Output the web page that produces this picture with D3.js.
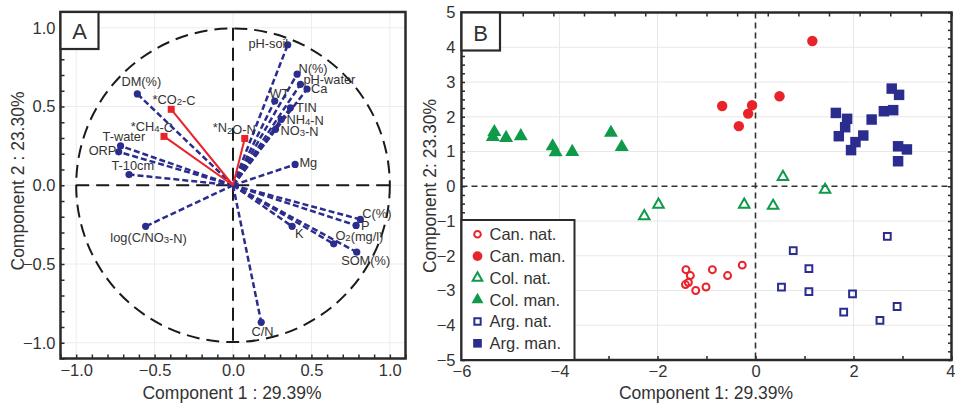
<!DOCTYPE html>
<html><head><meta charset="utf-8">
<script src="https://cdn.jsdelivr.net/npm/d3@7"></script>
<style>
html,body{margin:0;padding:0;background:#fff;}
svg{display:block;font-family:"Liberation Sans",Arial,sans-serif;}
</style></head><body>
<svg id="c" width="955" height="406"></svg>
<script>
// ---------- Panel A data (loadings) ----------
const varNames = ["DM(%)","T-water","ORP","T-10cm","log(C/NO3-N)","pH-soil","N(%)","pH-water","Ca","WT","TIN","NH4-N","NO3-N","Mg","C(%)","P","K","O2(mg/l)","SOM(%)","C/N"];
const varX = [-0.61,-0.717,-0.729,-0.663,-0.557,0.349,0.409,0.43,0.472,0.266,0.366,0.307,0.271,0.396,0.812,0.785,0.377,0.642,0.789,0.18];
const varY = [0.58,0.25,0.212,0.068,-0.261,0.892,0.705,0.641,0.611,0.535,0.492,0.418,0.355,0.132,-0.217,-0.255,-0.261,-0.372,-0.425,-0.87];
const gasNames = ["*CO2-C","*CH4-C","*N2O-N"];
const gasX = [-0.394,-0.44,0.075];
const gasY = [0.482,0.31,0.297];
const aTicks = [-1.0,-0.5,0.0,0.5,1.0];

// ---------- Panel B data (scores) ----------
const groups = ["Can. nat.","Can. man.","Col. nat.","Col. man.","Arg. nat.","Arg. man."];
const canNatX = [-1.42,-1.33,-1.37,-1.43,-1.22,-1.01,-0.88,-0.57,-0.27];
const canNatY = [-2.40,-2.57,-2.77,-2.83,-3.00,-2.90,-2.40,-2.57,-2.27];
const canManX = [1.16,0.49,-0.68,-0.07,-0.15,-0.34];
const canManY = [4.18,2.59,2.31,2.33,2.09,1.73];
const colNatX = [0.56,1.42,-0.23,0.36,-2.27,-1.98];
const colNatY = [0.27,-0.10,-0.53,-0.56,-0.86,-0.53];
const colManX = [-5.33,-5.36,-5.09,-4.79,-4.14,-4.08,-3.74,-2.95,-2.73];
const colManY = [1.56,1.42,1.39,1.44,1.15,0.98,0.99,1.54,1.13];
const argNatX = [2.69,0.77,1.09,0.53,1.09,1.98,2.89,1.80,2.54];
const argNatY = [-1.44,-1.85,-2.37,-2.90,-3.03,-3.10,-3.46,-3.62,-3.86];
const argManX = [1.64,1.87,1.83,1.70,2.04,1.95,2.20,2.37,2.62,2.81,2.78,2.93,2.91,3.09,2.91];
const argManY = [2.11,1.94,1.70,1.44,1.27,1.04,1.46,1.92,2.16,2.19,2.81,2.63,1.15,1.06,0.72];
const bXTicks = [-6,-4,-2,0,2,4];
const bYTicks = [5,4,3,2,1,0,-1,-2,-3,-4,-5];

// ---------- styles ----------
const BLUE = "#2b2d8e", RED = "#e8232a", GREEN = "#0f9a4a", TXT = "#333", FRAME = "#2a2a2a";
const svg = d3.select("#c");

function richText(sel, label, size){
  // subscript digits following an uppercase letter
  const parts = label.split(/([A-Z])(\d)/);
  parts.forEach((p,i)=>{
    if (i % 3 === 2){
      sel.append("tspan").attr("font-size", size*0.75).attr("dy", 1.2).text(p);
      sel.append("tspan").attr("dy", -1.2).text("");
    } else if (p) {
      sel.append("tspan").text(p);
    }
  });
}

// =================== PANEL A ===================
const xA = d3.scaleLinear().domain([-1.1,1.1]).range([60.5,405.5]);
const yA = d3.scaleLinear().domain([-1.1,1.1]).range([358.5,12]);
const gA = svg.append("g");

gA.selectAll(".gx").data(aTicks).enter().append("line")
  .attr("x1", d=>xA(d)).attr("x2", d=>xA(d)).attr("y1", yA(1.1)).attr("y2", yA(-1.1))
  .attr("stroke", "#ececec").attr("stroke-width", 1);
gA.selectAll(".gy").data(aTicks).enter().append("line")
  .attr("y1", d=>yA(d)).attr("y2", d=>yA(d)).attr("x1", xA(-1.1)).attr("x2", xA(1.1))
  .attr("stroke", "#ececec").attr("stroke-width", 1);

const dashBlack = "13,7";
gA.append("circle").attr("cx", xA(0)).attr("cy", yA(0)).attr("r", xA(1)-xA(0))
  .attr("fill","none").attr("stroke","#1a1a1a").attr("stroke-width",2).attr("stroke-dasharray",dashBlack);
gA.append("line").attr("x1", xA(-1)).attr("x2", xA(1)).attr("y1", yA(0)).attr("y2", yA(0))
  .attr("stroke","#1a1a1a").attr("stroke-width",2).attr("stroke-dasharray",dashBlack);
gA.append("line").attr("x1", xA(0)).attr("x2", xA(0)).attr("y1", yA(1)).attr("y2", yA(-1))
  .attr("stroke","#1a1a1a").attr("stroke-width",2).attr("stroke-dasharray",dashBlack);

const vars = varNames.map((n,i)=>({n, x:varX[i], y:varY[i]}));
gA.selectAll(".bl").data(vars).enter().append("line")
  .attr("x1", xA(0)).attr("y1", yA(0)).attr("x2", d=>xA(d.x)).attr("y2", d=>yA(d.y))
  .attr("stroke", BLUE).attr("stroke-width", 2.5).attr("stroke-dasharray","6,3");
gA.selectAll(".bp").data(vars).enter().append("circle")
  .attr("cx", d=>xA(d.x)).attr("cy", d=>yA(d.y)).attr("r", 3.6).attr("fill", BLUE);

const gases = gasNames.map((n,i)=>({n, x:gasX[i], y:gasY[i]}));
gA.selectAll(".rl").data(gases).enter().append("line")
  .attr("x1", xA(0)).attr("y1", yA(0)).attr("x2", d=>xA(d.x)).attr("y2", d=>yA(d.y))
  .attr("stroke", RED).attr("stroke-width", 2);
gA.selectAll(".rp").data(gases).enter().append("rect")
  .attr("x", d=>xA(d.x)-3.5).attr("y", d=>yA(d.y)-3.5).attr("width",7).attr("height",7).attr("fill", RED);

const labelPos = {
  "DM(%)":[4,-12,"middle"], "T-water":[-18,-9.7,"start"], "ORP":[-2.3,-1.7,"end"],
  "T-10cm":[-17.6,-8.6,"start"], "log(C/NO3-N)":[2.9,11.3,"middle"], "pH-soil":[0.5,-1,"end"],
  "N(%)":[1.3,-6,"start"], "pH-water":[3,-5,"start"], "Ca":[4,0,"start"], "WT":[-5.3,-7,"start"],
  "TIN":[5.7,0,"start"], "NH4-N":[5.3,0,"start"], "NO3-N":[5,1,"start"], "Mg":[4.3,-1.6,"start"],
  "C(%)":[2,-6.3,"start"], "P":[5,0,"start"], "K":[3,6.7,"start"], "O2(mg/l)":[1.7,-8.3,"start"],
  "SOM(%)":[-15.6,8.3,"start"], "C/N":[1.3,9.3,"middle"],
  "*CO2-C":[-18.7,-10.3,"start"], "*CH4-C":[-33.3,-10,"start"], "*N2O-N":[-32,-10.6,"start"]
};
const LS = 12.8;
vars.concat(gases).forEach(d=>{
  const p = labelPos[d.n];
  const t = gA.append("text").attr("x", xA(d.x)+p[0]).attr("y", yA(d.y)+p[1]+LS*0.35)
    .attr("text-anchor", p[2]).attr("font-size", LS).attr("fill", TXT);
  richText(t, d.n, LS);
});

gA.append("rect").attr("x", xA(-1.1)).attr("y", yA(1.1)).attr("width", xA(1.1)-xA(-1.1)).attr("height", yA(-1.1)-yA(1.1))
  .attr("fill","none").attr("stroke",FRAME).attr("stroke-width",2.5);

const minorA = d3.range(-11,12).map(d=>d/10);
gA.append("g").attr("transform",`translate(${xA(-1.1)},0)`)
  .call(d3.axisLeft(yA).tickValues(minorA).tickSize(-4).tickFormat(""))
  .call(g=>{g.select(".domain").remove(); g.selectAll("line").attr("stroke",FRAME).attr("stroke-width",1.5);});
gA.append("g").attr("transform",`translate(0,${yA(-1.1)})`)
  .call(d3.axisBottom(xA).tickValues(minorA).tickSize(-4).tickFormat(""))
  .call(g=>{g.select(".domain").remove(); g.selectAll("line").attr("stroke",FRAME).attr("stroke-width",1.5);});

gA.append("g").attr("transform",`translate(${xA(-1.1)},0)`)
  .call(d3.axisLeft(yA).tickValues(aTicks).tickSize(0).tickPadding(5).tickFormat(d3.format(".1f")))
  .call(g=>{g.select(".domain").remove(); g.selectAll("text").attr("font-size",16.5).attr("fill",TXT).attr("font-family","Liberation Sans, Arial, sans-serif");});
gA.append("g").attr("transform",`translate(0,${yA(-1.1)})`)
  .call(d3.axisBottom(xA).tickValues(aTicks).tickSize(0).tickPadding(6).tickFormat(d3.format(".1f")))
  .call(g=>{g.select(".domain").remove(); g.selectAll("text").attr("font-size",16.5).attr("fill",TXT).attr("font-family","Liberation Sans, Arial, sans-serif");});

gA.append("text").attr("x", 232).attr("y", 399).attr("text-anchor","middle").attr("font-size",17.5).attr("fill",TXT)
  .text("Component 1 : 29.39%");
gA.append("text").attr("transform","translate(24,181) rotate(-90)").attr("text-anchor","middle").attr("font-size",17.5).attr("fill",TXT)
  .text("Component 2 : 23.30%");

gA.append("rect").attr("x", xA(-1.1)).attr("y", yA(1.1)).attr("width",38).attr("height",37)
  .attr("fill","#fff").attr("stroke",FRAME).attr("stroke-width",2.2);
gA.append("text").attr("x", xA(-1.1)+19).attr("y", yA(1.1)+27).attr("text-anchor","middle").attr("font-size",22).attr("fill",TXT).text("A");

// =================== PANEL B ===================
const xB = d3.scaleLinear().domain([-6,4]).range([461.5,951.5]);
const yB = d3.scaleLinear().domain([-5,5]).range([360,12.5]);
const gB = svg.append("g");

gB.selectAll(".gx").data([-4,-2,2]).enter().append("line")
  .attr("x1", d=>xB(d)).attr("x2", d=>xB(d)).attr("y1", yB(5)).attr("y2", yB(-5))
  .attr("stroke","#e8e8e8").attr("stroke-width",1);
gB.selectAll(".gy").data(bYTicks.filter(d=>d!==0&&Math.abs(d)<5)).enter().append("line")
  .attr("y1", d=>yB(d)).attr("y2", d=>yB(d)).attr("x1", xB(-6)).attr("x2", xB(4))
  .attr("stroke","#e8e8e8").attr("stroke-width",1);

gB.append("line").attr("x1", xB(-6)).attr("x2", xB(4)).attr("y1", yB(0)).attr("y2", yB(0))
  .attr("stroke","#333").attr("stroke-width",1.6).attr("stroke-dasharray","6,4");
gB.append("line").attr("x1", xB(0)).attr("x2", xB(0)).attr("y1", yB(5)).attr("y2", yB(-5))
  .attr("stroke","#333").attr("stroke-width",1.6).attr("stroke-dasharray","6,4");

const sets = [
  {name:groups[0], xs:canNatX, ys:canNatY, shape:d3.symbolCircle, size:38, fill:"none", stroke:RED, sw:2},
  {name:groups[1], xs:canManX, ys:canManY, shape:d3.symbolCircle, size:85, fill:RED, stroke:"none", sw:0},
  {name:groups[2], xs:colNatX, ys:colNatY, shape:d3.symbolTriangle, size:48, fill:"none", stroke:GREEN, sw:2},
  {name:groups[3], xs:colManX, ys:colManY, shape:d3.symbolTriangle, size:85, fill:GREEN, stroke:"none", sw:0},
  {name:groups[4], xs:argNatX, ys:argNatY, shape:d3.symbolSquare, size:46, fill:"none", stroke:BLUE, sw:2},
  {name:groups[5], xs:argManX, ys:argManY, shape:d3.symbolSquare, size:110, fill:BLUE, stroke:"none", sw:0}
];
sets.forEach(s=>{
  const pts = s.xs.map((x,i)=>({x, y:s.ys[i]}));
  gB.selectAll(null).data(pts).enter().append("path")
    .attr("transform", d=>`translate(${xB(d.x)},${yB(d.y)})`)
    .attr("d", d3.symbol().type(s.shape).size(s.size)())
    .attr("fill", s.fill).attr("stroke", s.stroke).attr("stroke-width", s.sw);
});

gB.append("rect").attr("x", xB(-6)).attr("y", yB(5)).attr("width", xB(4)-xB(-6)).attr("height", yB(-5)-yB(5))
  .attr("fill","none").attr("stroke",FRAME).attr("stroke-width",2.5);

const tickStyle = g=>{g.select(".domain").remove(); g.selectAll("line").attr("stroke",FRAME).attr("stroke-width",1.5);};
const minorB = d3.range(-20,21).map(d=>d/4);
gB.append("g").attr("transform",`translate(${xB(-6)},0)`).call(d3.axisLeft(yB).tickValues(minorB).tickSize(-3.5).tickFormat("")).call(tickStyle);
gB.append("g").attr("transform",`translate(${xB(4)},0)`).call(d3.axisRight(yB).tickValues(minorB).tickSize(-3.5).tickFormat("")).call(tickStyle);
gB.append("g").attr("transform",`translate(0,${yB(-5)})`).call(d3.axisBottom(xB).tickValues(d3.range(-6,5)).tickSize(-4).tickFormat("")).call(tickStyle);
const topB = d3.scaleLinear().domain([0,16]).range(xB.range());
gB.append("g").attr("transform",`translate(0,${yB(5)})`).call(d3.axisTop(topB).tickValues(d3.range(0,17)).tickSize(-4).tickFormat("")).call(tickStyle);

const labStyle = g=>{g.select(".domain").remove(); g.selectAll("text").attr("font-size",16.5).attr("fill",TXT).attr("font-family","Liberation Sans, Arial, sans-serif");};
gB.append("g").attr("transform",`translate(${xB(-6)},0)`).call(d3.axisLeft(yB).tickValues(bYTicks).tickSize(0).tickPadding(6).tickFormat(d3.format("d"))).call(labStyle);
gB.append("g").attr("transform",`translate(0,${yB(-5)})`).call(d3.axisBottom(xB).tickValues(bXTicks).tickSize(0).tickPadding(5).tickFormat(d3.format("d"))).call(labStyle)
  .call(g=>g.selectAll(".tick").filter(d=>d===4).select("text").attr("text-anchor","end").attr("x",3.5));

gB.append("text").attr("x", 706).attr("y", 399).attr("text-anchor","middle").attr("font-size",17.5).attr("fill",TXT)
  .text("Component 1: 29.39%");
gB.append("text").attr("transform","translate(436,186) rotate(-90)").attr("text-anchor","middle").attr("font-size",17.5).attr("fill",TXT)
  .text("Component 2: 23.30%");

gB.append("rect").attr("x", xB(-6)).attr("y", yB(5)).attr("width",38.5).attr("height",38)
  .attr("fill","#fff").attr("stroke",FRAME).attr("stroke-width",2.2);
gB.append("text").attr("x", xB(-6)+19).attr("y", yB(5)+28).attr("text-anchor","middle").attr("font-size",22).attr("fill",TXT).text("B");

const lg = gB.append("g");
lg.append("rect").attr("x", xB(-6)).attr("y", 220).attr("width", 113).attr("height", yB(-5)-220)
  .attr("fill","#fff").attr("stroke",FRAME).attr("stroke-width",2);
const legSizes = [34,75,40,62,40,75];
sets.forEach((s,i)=>{
  const cy = 234.3 + i*21.8;
  lg.append("path").attr("transform",`translate(${xB(-6)+16},${cy})`)
    .attr("d", d3.symbol().type(s.shape).size(legSizes[i])())
    .attr("fill", s.fill).attr("stroke", s.stroke).attr("stroke-width", s.sw);
  lg.append("text").attr("x", xB(-6)+28).attr("y", cy+5.8).attr("font-size",16.5).attr("fill",TXT).text(s.name);
});
</script>
</body></html>
